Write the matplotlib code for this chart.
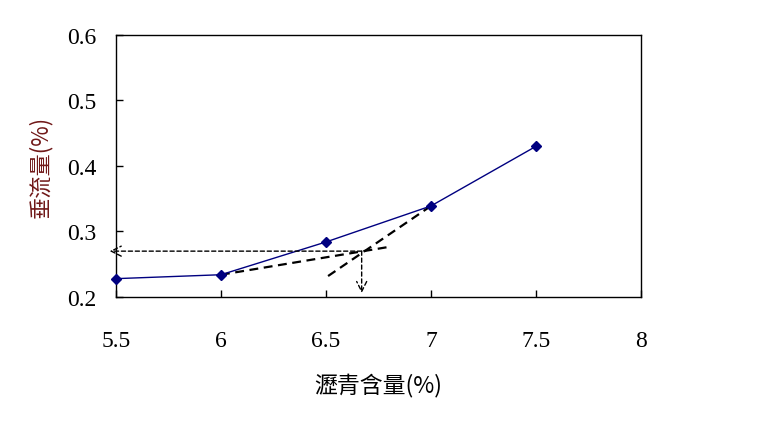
import matplotlib
matplotlib.use("Agg")
import matplotlib.pyplot as plt

# asphalt content (%) vs drain-down (%)
asphalt = [5.5, 6.0, 6.5, 7.0, 7.5]
drain = [0.228, 0.234, 0.284, 0.339, 0.430]

# construction lines
line1_x = [6.0, 6.81]
line1_y = [0.234, 0.277]
line2_x = [6.51, 7.0]
line2_y = [0.232, 0.339]
cross_x = 6.67
cross_y = 0.270

plt.rcParams['font.family'] = ['Liberation Serif', 'Noto Sans CJK TC', 'DejaVu Sans']
cjk = ['Noto Sans CJK TC', 'DejaVu Sans']

fig = plt.figure(figsize=(7.58, 4.31), dpi=100)
ax = fig.add_axes([0.153, 0.3086, 0.6926, 0.6079])

ax.plot(asphalt, drain, color='#000080', lw=1.0, marker='D', markersize=5.5,
        markerfacecolor='#000080', markeredgecolor='#000080', clip_on=False, zorder=3)

ax.plot(line1_x, line1_y, color='black', ls=(0, (4, 2.5)), lw=1.6)
ax.plot(line2_x, line2_y, color='black', ls=(0, (4, 2.5)), lw=1.6)

# arrows to the axes
ax.annotate('', xy=(5.47, cross_y), xytext=(cross_x, cross_y),
            arrowprops=dict(arrowstyle='->', color='black', lw=1.0, ls=(0, (3, 2)),
                            shrinkA=0, shrinkB=0, mutation_scale=18),
            annotation_clip=False)
ax.annotate('', xy=(cross_x, 0.206), xytext=(cross_x, cross_y),
            arrowprops=dict(arrowstyle='->', color='black', lw=1.0, ls=(0, (3, 2)),
                            shrinkA=0, shrinkB=0, mutation_scale=18),
            annotation_clip=False)

ax.set_xlim(5.5, 8)
ax.set_ylim(0.2, 0.6)
ax.set_xticks([5.5, 6, 6.5, 7, 7.5, 8])
ax.set_xticklabels(['5.5', '6', '6.5', '7', '7.5', '8'])
ax.set_yticks([0.2, 0.3, 0.4, 0.5, 0.6])
ax.set_yticklabels(['0.2', '0.3', '0.4', '0.5', '0.6'])
ax.tick_params(direction='in', length=5, width=1, labelsize=17, pad=14)
ax.tick_params(axis='x', pad=24)

for s in ax.spines.values():
    s.set_linewidth(1.0)

ax.set_xlabel('瀝青含量(%)', family=cjk, fontsize=16.5, labelpad=15)
ax.set_ylabel('垂流量(%)', family=cjk, fontsize=16, color='#701818', labelpad=11)

fig.savefig('out.png', dpi=100)
